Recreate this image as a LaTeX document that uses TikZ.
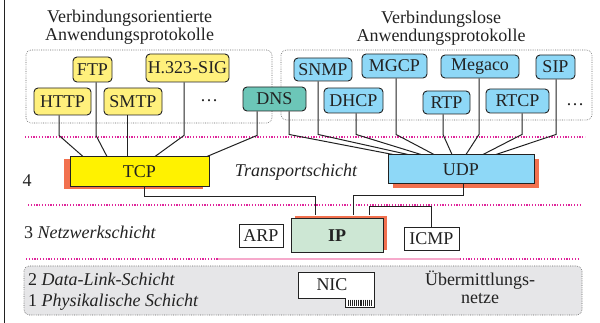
\documentclass[tikz,border=0pt]{standalone}
\usepackage{fontspec}
\setmainfont{Liberation Serif}[
  Extension=.ttf,
  UprightFont=LiberationSerif-Regular,
  BoldFont=LiberationSerif-Bold,
  ItalicFont=LiberationSerif-Italic,
  BoldItalicFont=LiberationSerif-BoldItalic]
\usetikzlibrary{shadows}

\definecolor{appyellow}{HTML}{FFF07C}
\definecolor{tcpyellow}{HTML}{FFF200}
\definecolor{appblue}{HTML}{8ED8F7}
\definecolor{dnsteal}{HTML}{6CC6B8}
\definecolor{ipgreen}{HTML}{CDE7D4}
\definecolor{shred}{HTML}{F2714F}
\definecolor{laymag}{HTML}{E0249B}
\definecolor{laypink}{HTML}{F6A9CB}
\definecolor{netgray}{HTML}{E6E6E8}
\definecolor{ink}{HTML}{222222}

\tikzset{
  appbox/.style={draw=ink, line width=0.9pt, rounded corners=4pt, inner sep=0pt, text=ink},
  yel/.style={appbox, fill=appyellow},
  blu/.style={appbox, fill=appblue},
  proto/.style={draw=ink, line width=1pt, inner sep=0pt, text=ink},
  plainbox/.style={draw=ink, line width=0.9pt, fill=white, inner sep=0pt, text=ink},
  conn/.style={draw=ink, line width=1pt},
  layerline/.style={draw=laymag, line width=1.3pt, dash pattern=on 1.1pt off 1.7pt},
  groupbox/.style={draw=black!60, line width=0.6pt, dash pattern=on 0.7pt off 1.1pt, rounded corners=5pt},
  lbl/.style={inner sep=0pt, text=ink},
}

\begin{document}
\begin{tikzpicture}[x=1pt, y=-1pt, font=\fontsize{18}{18}\selectfont]
\useasboundingbox (0,0) rectangle (600,323);

% left margin rule
\draw[line width=1.6pt, ink] (4.5,0) -- (4.5,323);

% group frames for the application protocols
\draw[groupbox] (26,50) rectangle (272,123);
\draw[groupbox] (281,50) rectangle (592,120);

\node[lbl, align=center] (titleL) at (129.5,27) {Verbindungsorientierte\\Anwendungsprotokolle};
\node[lbl, align=center] (titleR) at (441,28) {Verbindungslose\\Anwendungsprotokolle};

% layer separators
\draw[layerline] (25,137) -- (585,137);
\draw[layerline] (28,205) -- (582,205);
\draw[layerline] (26,259) -- (218,259);
\draw[layerline] (460,259) -- (580,259);
\draw[draw=laypink, line width=2.6pt] (218,259) -- (460,259);

% lower layers frame
\draw[groupbox, fill=netgray] (24,266) rectangle (582,315);

% application protocols (connection oriented)
\node[yel, minimum width=57pt, minimum height=27pt] (http) at (62.5,101.5) {HTTP};
\node[yel, minimum width=39pt, minimum height=25pt] (ftp) at (92.5,69.5) {FTP};
\node[yel, minimum width=58pt, minimum height=27pt] (smtp) at (133,101.5) {SMTP};
\node[yel, minimum width=83pt, minimum height=28pt] (h323) at (187.5,68) {H.323-SIG};
\node[lbl] (dotsL) at (209,101) {\dots};
\node[appbox, fill=dnsteal, minimum width=63pt, minimum height=24pt] (dns) at (274.5,99) {DNS};

% application protocols (connectionless)
\node[blu, minimum width=58pt, minimum height=23pt] (snmp) at (323,69.5) {SNMP};
\node[blu, minimum width=65pt, minimum height=24pt] (mgcp) at (394.5,66) {MGCP};
\node[blu, minimum width=78pt, minimum height=23pt] (megaco) at (480,66.5) {Megaco};
\node[blu, minimum width=39pt, minimum height=24pt] (sip) at (555.5,67) {SIP};
\node[blu, minimum width=59pt, minimum height=25pt] (dhcp) at (353.5,100.5) {DHCP};
\node[blu, minimum width=47pt, minimum height=23pt] (rtp) at (446.5,102.5) {RTP};
\node[blu, minimum width=63pt, minimum height=24pt] (rtcp) at (517.5,101) {RTCP};
\node[lbl] (dotsR) at (575,105) {\dots};

% transport layer
\node[proto, fill=tcpyellow, minimum width=139pt, minimum height=30pt,
      drop shadow={shadow xshift=-6pt, shadow yshift=-2.5pt, fill=shred, opacity=1}] (tcp) at (139.5,172) {TCP};
\node[proto, fill=appblue, minimum width=146pt, minimum height=29pt,
      drop shadow={shadow xshift=5pt, shadow yshift=-4pt, fill=shred, opacity=1}] (udp) at (461,169.5) {UDP};
\node[lbl, font=\fontsize{18}{18}\selectfont\itshape] (transport) at (296,172) {Transportschicht};
\node[lbl] (num4) at (27,181) {4};

% network layer
\node[proto, fill=ipgreen, minimum width=92pt, minimum height=34pt, font=\fontsize{18}{18}\selectfont\bfseries,
      drop shadow={shadow xshift=3.5pt, shadow yshift=3pt, fill=shred, opacity=1}] (ip) at (337,236) {IP};
\node[plainbox, minimum width=44pt, minimum height=23pt] (arp) at (261,235.5) {ARP};
\node[plainbox, minimum width=55pt, minimum height=23pt] (icmp) at (431.5,238.5) {ICMP};
\node[lbl, anchor=west] (netlayer) at (24,232) {3 \textit{Netzwerkschicht}};

% connectors application -> TCP
\draw[conn] ([xshift=-3.5pt]http.south) -- ++(0,20) -- ([xshift=-56.5pt]tcp.north);
\draw[conn] ([xshift=3.5pt]ftp.south) -- ++(0,53) -- ([xshift=-32.5pt]tcp.north);
\draw[conn] ([xshift=-6pt]smtp.south) -- ([xshift=-12.5pt]tcp.north);
\draw[conn] ([xshift=-3.5pt]h323.south) -- ++(0,53) -- ([xshift=15.5pt]tcp.north);
\draw[conn] ([xshift=-17.5pt]dns.south) -- ++(0,24) -- ([xshift=67.5pt]tcp.north);

% connectors application -> UDP
\draw[conn] ([xshift=14.5pt]dns.south) -- ++(0,23) -- ([xshift=-68pt]udp.north);
\draw[conn] ([xshift=-5pt]snmp.south) -- ++(0,53) -- ([xshift=-53pt]udp.north);
\draw[conn] ([xshift=2.5pt]dhcp.south) -- ++(0,21) -- ([xshift=-40pt]udp.north);
\draw[conn] ([xshift=1.5pt]mgcp.south) -- ++(0,56) -- ([xshift=-27pt]udp.north);
\draw[conn] ([xshift=-3.5pt]rtp.south) -- ++(0,20) -- ([xshift=-9pt]udp.north);
\draw[conn] ([xshift=-1pt]megaco.south) -- ++(0,56) -- ([xshift=5pt]udp.north);
\draw[conn] ([xshift=4.5pt]rtcp.south) -- ++(0,21) -- ([xshift=22pt]udp.north);
\draw[conn] ([xshift=0.5pt]sip.south) -- ++(0,55) -- ([xshift=35pt]udp.north);

% transport -> IP, IP -> ICMP
\draw[conn] ([xshift=4.5pt]tcp.south) -- ++(0,9) -| ([xshift=-22pt,yshift=3pt]ip.north);
\draw[conn] ([xshift=2pt]udp.south) -- ++(0,11) -| ([xshift=16pt,yshift=3pt]ip.north);
\draw[conn] ([xshift=32pt,yshift=3pt]ip.north) -- ++(0,-9) -| (icmp.north);

% data link / physical layer
\node[lbl, anchor=base west] (dll) at (28,286) {2 \textit{Data-Link-Schicht}};
\node[lbl, anchor=base west] (phy) at (28,306) {1 \textit{Physikalische Schicht}};
\draw[draw=ink, line width=0.9pt, fill=white]
  (298,272) -- (374,272) -- (374,307) -- (345,307) -- (345,298) -- (298,298) -- cycle;
\foreach \k in {0,...,12} {
  \draw[ink, line width=0.7pt] (348.5+1.9*\k,299.5) -- (348.5+1.9*\k,305.5);
}
\node[lbl] (nic) at (332,285) {NIC};
\node[lbl, align=center, anchor=base] (netze) at (480,304) {Übermittlungs-\\netze};
\end{tikzpicture}
\end{document}
